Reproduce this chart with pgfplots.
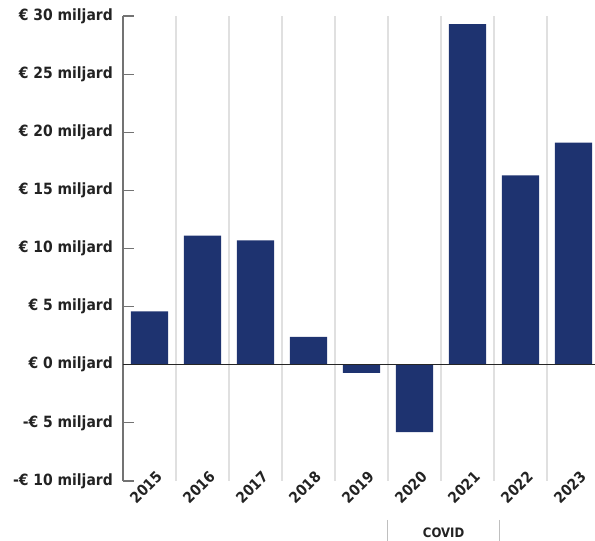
\documentclass[border=0pt]{standalone}
\usepackage{fontspec}
\setmainfont{DejaVu Sans Condensed}
\usepackage{pgfplots}
\pgfplotsset{compat=1.18}
\usetikzlibrary{calc}

\definecolor{navy}{HTML}{1E3370}
\definecolor{txt}{HTML}{222222}

% saldo per jaar, miljard euro
\pgfplotstableread{
x val
0 4.6
1 11.1
2 10.7
3 2.4
4 -0.7
5 -5.8
6 29.3
7 16.3
8 19.1
}\saldo

\begin{document}
\begin{tikzpicture}
\begin{axis}[
    name=ax,
    scale only axis,
    width=472pt,
    height=465pt,
    xmin=-0.5, xmax=8.406,
    ymin=-10, ymax=30,
    clip=false,
    axis lines*=left,
    x axis line style={draw=none},
    y axis line style={draw=black!55, line width=1.2pt},
    xtick={0,...,8},
    xticklabels={2015,2016,2017,2018,2019,2020,2021,2022,2023},
    x tick style={draw=none},
    minor xtick={0.5,1.5,...,7.5},
    xminorgrids,
    minor grid style={black!12, line width=1.2pt},
    ytick={-10,-5,...,30},
    yticklabels={-€ 10 miljard,-€ 5 miljard,€ 0 miljard,€ 5 miljard,€ 10 miljard,€ 15 miljard,€ 20 miljard,€ 25 miljard,€ 30 miljard},
    ytick pos=left,
    tick align=inside,
    major tick length=11pt,
    y tick style={draw=black!55, line width=1.2pt},
    yticklabel style={font=\fontsize{15.5}{18}\selectfont\bfseries, text=txt, inner sep=0pt, xshift=-10pt},
    xticklabel style={font=\fontsize{15}{17}\selectfont\bfseries, text=txt, rotate=45, anchor=north east, inner sep=0pt, xshift=12pt, yshift=4pt},
]
\addplot[ybar, bar width=0.7, fill=navy, draw=none] table[x=x, y=val] {\saldo};
\addplot[black!85, line width=1.3pt] coordinates {(-0.5,0) (8.5,0)};
\draw[black!25, line width=1pt] (axis cs:4.5,-13.35) -- (axis cs:4.5,-15.5);
\draw[black!25, line width=1pt] (axis cs:6.6,-13.35) -- (axis cs:6.6,-15.5);
\node[font=\fontsize{13}{15}\selectfont\bfseries, text=txt] at (axis cs:5.55,-14.45) {COVID};
\end{axis}
\pgfresetboundingbox
\useasboundingbox ($(ax.south west)+(-123pt,-60pt)$) rectangle ($(ax.north east)+(0pt,16pt)$);
\end{tikzpicture}
\end{document}
